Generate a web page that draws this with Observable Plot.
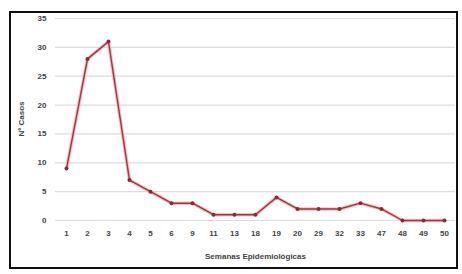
<!DOCTYPE html>
<html><head><meta charset="utf-8">
<script src="https://cdn.jsdelivr.net/npm/d3@7"></script>
<script src="https://cdn.jsdelivr.net/npm/@observablehq/plot@0.6"></script>
<style>
html,body{margin:0;padding:0;background:#fff;}
#wrap{position:relative;width:462px;height:274px;overflow:hidden;}
#frame{position:absolute;left:9px;top:11px;width:449px;height:258px;border:2px solid #111;box-sizing:border-box;pointer-events:none;}
#chart{position:absolute;left:0;top:0;}
</style></head>
<body><div id="wrap"><div id="chart"></div><div id="frame"></div></div>
<script>
const semanas = ["1","2","3","4","5","6","9","11","13","18","19","20","29","32","33","47","48","49","50"];
const casos = [9,28,31,7,5,3,3,1,1,1,4,2,2,2,3,2,0,0,0];
const yTicks = [0,5,10,15,20,25,30,35];
const yLabel = "Nº Casos";
const data = semanas.map((s,i)=>({s, v:casos[i]}));
const chart = Plot.plot({
  width:462, height:274,
  marginLeft:55, marginRight:7, marginTop:18, marginBottom:54,
  style:{fontFamily:"'Liberation Sans Narrow','Liberation Sans',Arial,sans-serif", fontSize:"8px", fontWeight:"bold", color:"#444"},
  x:{type:"point", domain:semanas, padding:0.47, label:"Semanas Epidemiológicas", labelAnchor:"center", labelOffset:38, tickSize:0, tickPadding:10},
  y:{domain:[0,35], ticks:yTicks, label:null, tickSize:0, tickPadding:9},
  marks:[
    Plot.gridY(yTicks,{stroke:"#dcdcdc", strokeOpacity:1, strokeWidth:1.2}),
    Plot.line(data,{x:"s", y:"v", stroke:"#f4c0c8", strokeWidth:3.5}),
    Plot.line(data,{x:"s", y:"v", stroke:"#a8323e", strokeWidth:1.4}),
    Plot.dot(data,{x:"s", y:"v", r:2, fill:"#8a2a34", stroke:"none"})
  ]
});
d3.select(chart).append("text")
  .attr("transform","translate(24,119) rotate(-90)")
  .attr("text-anchor","middle")
  .attr("fill","#444")
  .text(yLabel);
document.getElementById("chart").appendChild(chart);
</script></body></html>
